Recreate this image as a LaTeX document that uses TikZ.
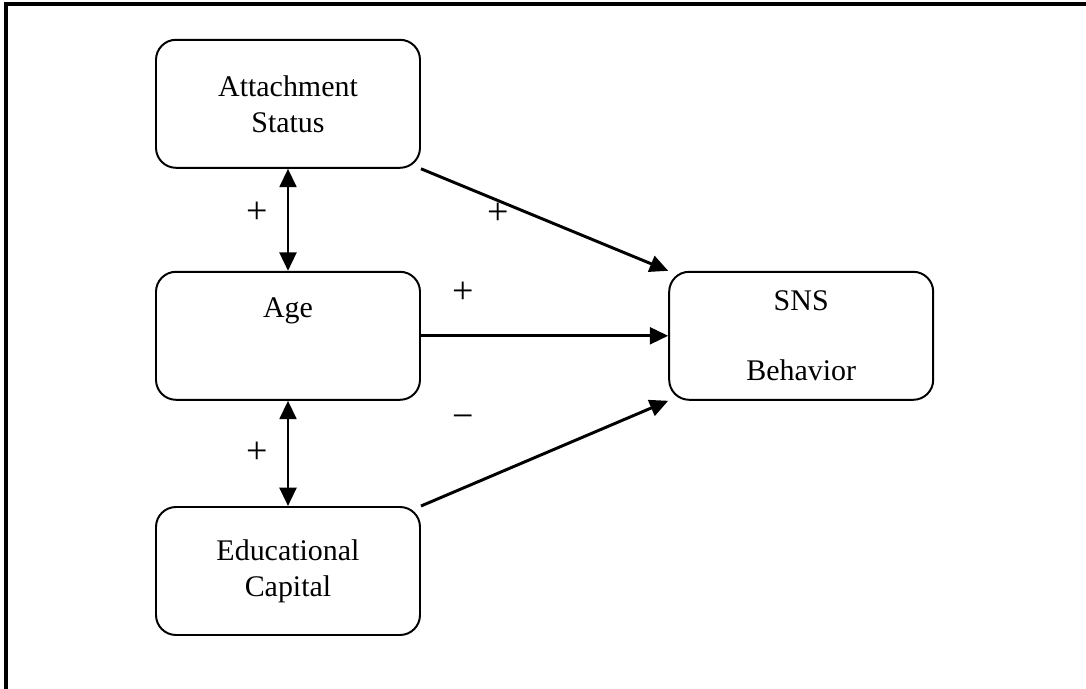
\documentclass[tikz,border=0pt]{standalone}
\usepackage{fontspec}
\setmainfont{Liberation Serif}
\usetikzlibrary{arrows.meta}

\begin{document}
\begin{tikzpicture}[
  box/.style={draw, line width=1.4pt, rounded corners=0.5cm, minimum width=6.6cm, minimum height=3.2cm, align=center, font=\fontsize{21.3}{25.6}\selectfont},
  sign/.style={font=\fontsize{27}{30}\selectfont},
  link/.style={line width=2.1pt, -{Triangle[length=0.46cm,width=0.42cm]}},
  both/.style={line width=2.1pt, {Triangle[length=0.46cm,width=0.42cm]}-{Triangle[length=0.46cm,width=0.42cm]}}
]
  \useasboundingbox (0,0) rectangle (27.15,17.225);
  \draw[line width=2.2pt] (0.15,0) -- (0.15,17.125) -- (27.15,17.125);

  \node[box] (att) at (7.2,14.63) {Attachment\\Status};
  \node[box] (age) at (7.2,8.83) {Age\\[0.25cm]\strut};
  \node[box] (edu) at (7.2,2.95) {Educational\\Capital};
  \node[box] (sns) at (20.03,8.83) {SNS\\[0.85cm]Behavior};

  \draw[both] (att.south) -- (age.north);
  \draw[both] (age.south) -- (edu.north);
  \draw[link] (att.south east) -- (sns.north west);
  \draw[link] (age.east) -- (sns.west);
  \draw[link] (edu.north east) -- (sns.south west);

  \node[sign] (s1) at (6.43,11.9) {+};
  \node[sign] (s2) at (12.45,11.88) {+};
  \node[sign] (s3) at (11.58,9.9) {+};
  \node[sign] (s4) at (11.58,6.68) {−};
  \node[sign] (s5) at (6.43,5.9) {+};
\end{tikzpicture}
\end{document}
